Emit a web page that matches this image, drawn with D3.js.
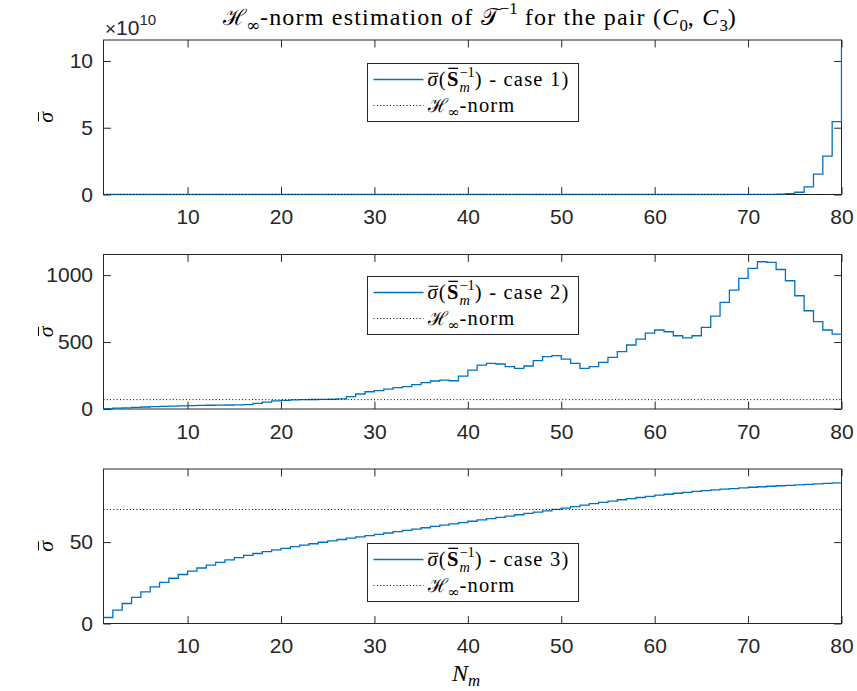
<!DOCTYPE html>
<html><head><meta charset="utf-8">
<script src="https://cdn.jsdelivr.net/npm/d3@7"></script>
<style>body{margin:0;background:#fff}svg{display:block}text{white-space:pre}</style>
</head><body><svg id="c" width="857" height="691"></svg>
<script>
// ---------------- data ----------------
const N = d3.range(1, 81);
// case 1 values in units of 1e10
const case1 = [
 0,0,0,0,0,0,0,0,0,0, 0,0,0,0,0,0,0,0,0,0,
 0,0,0,0,0,0,0,0,0,0, 0,0,0,0,0,0,0,0,0,0,
 0,0,0,0,0,0,0,0,0,0, 0,0,0,0,0,0,0,0,0,0.0001,
 0.0001,0.0001,0.0002,0.0003,0.0005,0.0008,0.0013,0.002,0.003,0.005,
 0.008,0.012,0.02,0.07,0.17,0.57,1.52,2.87,5.45,11.0];
const case2 = [
 3,6,9,12,15,17,19,21,23,25, 27,28,29,30,31,33,42,52,60,65,
 68,70,71,72,73,75,92,112,129,137, 149,159,167,182,197,209,216,211,246,291,
 328,341,336,316,303,321,361,391,398,373, 341,303,316,348,386,428,478,522,567,590,
 577,547,532,547,609,694,796,888,975,1050, 1100,1095,1042,958,846,734,652,590,560,555];
const case3 = [
 3.7,8.2,12.3,16.0,19.4,22.5,25.3,27.8,30.1,32.2,
 34.1,35.9,37.6,39.1,40.5,41.8,43.0,44.1,45.2,46.2,
 47.2,48.1,49.0,49.9,50.8,51.6,52.4,53.2,54.0,54.8,
 55.6,56.4,57.2,58.0,58.8,59.6,60.4,61.2,62.0,62.8,
 63.6,64.4,65.2,66.0,66.8,67.6,68.4,69.2,70.1,70.9,
 71.8,72.7,73.6,74.4,75.2,76.0,76.7,77.4,78.1,78.8,
 79.4,80.0,80.6,81.1,81.6,82.1,82.5,82.9,83.3,83.7,
 84.0,84.3,84.6,84.9,85.2,85.5,85.8,86.1,86.4,86.7];
const hinfNorm = 70;
const exponent1 = 1e10;
const xTicks = [10,20,30,40,50,60,70,80];
const yTicks = [[0,5,10],[0,500,1000],[0,50]];
const yMax = [11.57, 1154, 94.9];
const caseLabels = ['case 1)','case 2)','case 3)'];

// ---------------- layout ----------------
const svg = d3.select('#c');
const left = 103.5, right = 841.5;
const panelTops = [40, 254.5, 469], panelH = 154.5;
const axisColor = '#262626', blue = '#0072BD';
const sansFont = '"Liberation Sans", Arial, Helvetica, sans-serif';
const serifFont = '"Liberation Serif", "DejaVu Serif", serif';
const scriptFont = '"DejaVu Serif", serif';
const tickLen = 7.4;

const x = d3.scaleLinear().domain([1, 80]).range([left, right]);

function richRaw(g, x0, y0, base, parts, ls) {
  let cx = x0, prevStart = x0;
  parts.forEach(p => {
    const fs = base * (p.s || 1);
    const sx = p.stack ? prevStart : cx;
    const t = g.append('text').attr('x', sx).attr('y', y0 + (p.dy || 0) * base)
      .attr('font-size', fs).attr('font-family', p.font || serifFont)
      .attr('font-style', p.it ? 'italic' : 'normal')
      .attr('font-weight', p.b ? 'bold' : 'normal')
      .attr('letter-spacing', p.s && p.s < 1 ? 0 : ls)
      .attr('fill', p.fill || '#000').text(p.t);
    const w = t.node().getComputedTextLength();
    if (p.bar) {
      const by = y0 + (p.dy || 0) * base - base * p.bar;
      g.append('line').attr('x1', sx + w * (p.barL ?? 0.15)).attr('x2', sx + w * (p.barR ?? 0.9))
        .attr('y1', by).attr('y2', by).attr('stroke', '#000').attr('stroke-width', p.b ? 1.3 : 1);
    }
    if (p.stack) cx = Math.max(cx, sx + w);
    else { prevStart = sx; cx = sx + w; }
  });
  return cx - x0;
}
function rich(g, x0, y0, base, parts, target) {
  if (!target) return richRaw(g, x0, y0, base, parts, 0);
  const tmp = g.append('g');
  const w0 = richRaw(tmp, x0, y0, base, parts, 0);
  tmp.remove();
  const nChars = d3.sum(parts.filter(p => !(p.s && p.s < 1)), p => [...p.t].length);
  const ls = Math.max(0, (target - w0) / nChars);
  return richRaw(g, x0, y0, base, parts, ls);
}

const series = [case1, case2, case3];
panelTops.forEach((top, i) => {
  const bottom = top + panelH;
  const y = d3.scaleLinear().domain([0, yMax[i]]).range([bottom, top]);
  const g = svg.append('g');

  const ax = [
    d3.axisBottom(x).tickValues(xTicks).tickSize(-tickLen).tickPadding(15).tickFormat(d3.format('d')),
    d3.axisTop(x).tickValues(xTicks).tickSize(-tickLen).tickFormat(''),
    d3.axisLeft(y).tickValues(yTicks[i]).tickSize(-tickLen).tickPadding(10.5).tickFormat(d3.format('d')),
    d3.axisRight(y).tickValues(yTicks[i]).tickSize(-tickLen).tickFormat('')
  ];
  const tr = [`translate(0,${bottom})`, `translate(0,${top})`, `translate(${left},0)`, `translate(${right},0)`];
  ax.forEach((a, k) => {
    const ag = g.append('g').attr('transform', tr[k]).call(a);
    ag.select('.domain').remove();
    ag.selectAll('line').attr('stroke', axisColor).attr('stroke-width', 1);
    ag.selectAll('text').attr('font-family', sansFont).attr('font-size', 21).attr('fill', axisColor);
  });
  g.append('rect').attr('x', left).attr('y', top).attr('width', right - left).attr('height', panelH)
    .attr('fill', 'none').attr('stroke', axisColor).attr('stroke-width', 1);

  const clipId = 'clip' + i;
  svg.append('clipPath').attr('id', clipId).append('rect')
    .attr('x', left - 1).attr('y', top - 1).attr('width', right - left + 2).attr('height', panelH + 2);
  const pts = N.map((n, k) => [n, series[i][k]]);
  const line = d3.line().x(d => x(d[0])).y(d => y(d[1])).curve(d3.curveStepAfter);
  g.append('path').attr('d', line(pts)).attr('fill', 'none').attr('stroke', blue)
    .attr('stroke-width', 1.3).attr('clip-path', `url(#${clipId})`);
  const hv = i === 0 ? hinfNorm / exponent1 : hinfNorm;
  g.append('line').attr('x1', x(1)).attr('x2', x(80)).attr('y1', y(hv)).attr('y2', y(hv))
    .attr('stroke', '#000').attr('stroke-width', 1).attr('stroke-dasharray', '1,2.3');

  const yl = g.append('g').attr('transform', `translate(53,${top + panelH / 2}) rotate(-90)`);
  const tmp = yl.append('g');
  const wl = rich(tmp, 0, 0, 22, [{t: 'σ', it: true, bar: 0.66, barL: 0.12, barR: 0.95}]);
  tmp.attr('transform', `translate(${-wl / 2},0)`);

  const lx = 367.5, ly = [63.5, 276.5, 543.5][i], lw = 211, lh = 58;
  const lg = g.append('g');
  lg.append('rect').attr('x', lx).attr('y', ly).attr('width', lw).attr('height', lh)
    .attr('fill', '#fff').attr('stroke', axisColor).attr('stroke-width', 1);
  const r1 = ly + 16, r2 = ly + 42;
  lg.append('line').attr('x1', lx + 6).attr('x2', lx + 56).attr('y1', r1).attr('y2', r1)
    .attr('stroke', blue).attr('stroke-width', 1.3);
  lg.append('line').attr('x1', lx + 6).attr('x2', lx + 56).attr('y1', r2).attr('y2', r2)
    .attr('stroke', '#000').attr('stroke-width', 1).attr('stroke-dasharray', '1,2.3');
  const fsL = 20.5;
  rich(lg, lx + 60, r1 + 6.5, fsL, [
    {t: 'σ', it: true, bar: 0.62, barL: 0.1, barR: 0.95},
    {t: '('},
    {t: 'S', b: true, bar: 0.86, barL: 0.12, barR: 0.88},
    {t: '−1', s: 0.7, dy: -0.45},
    {t: 'm', s: 0.7, dy: 0.28, it: true, stack: true},
    {t: ') - ' + caseLabels[i]}
  ], 142);
  rich(lg, lx + 60, r2 + 6.5, fsL, [
    {t: 'ℋ', font: scriptFont, s: 0.92},
    {t: '∞', s: 0.7, dy: 0.25, font: scriptFont},
    {t: '-norm'}
  ], 88);
});

// exponent label for top panel
rich(svg, 105, 35, 21, [
  {t: '×', font: sansFont, fill: axisColor, s: 0.9},
  {t: '10', font: sansFont, fill: axisColor},
  {t: '10', font: sansFont, fill: axisColor, s: 0.72, dy: -0.5}
]);

// title
const tg = svg.append('g');
const tw = rich(tg, 0, 0, 24, [
  {t: 'ℋ', font: scriptFont, s: 0.92},
  {t: '∞', s: 0.7, dy: 0.25, font: scriptFont},
  {t: '-norm estimation of '},
  {t: '𝒯', font: scriptFont},
  {t: '−1', s: 0.7, dy: -0.45},
  {t: ' for the pair ('},
  {t: 'C', it: true},
  {t: '0', s: 0.7, dy: 0.25},
  {t: ', '},
  {t: 'C', it: true},
  {t: '3', s: 0.7, dy: 0.25},
  {t: ')'}
], 514);
tg.attr('transform', `translate(${480 - tw / 2},25)`);

// x label
const xg = svg.append('g');
const xw = rich(xg, 0, 0, 24, [
  {t: 'N', it: true},
  {t: 'm', it: true, s: 0.7, dy: 0.2}
]);
xg.attr('transform', `translate(${466 - xw / 2},681)`);
</script>
</body></html>
